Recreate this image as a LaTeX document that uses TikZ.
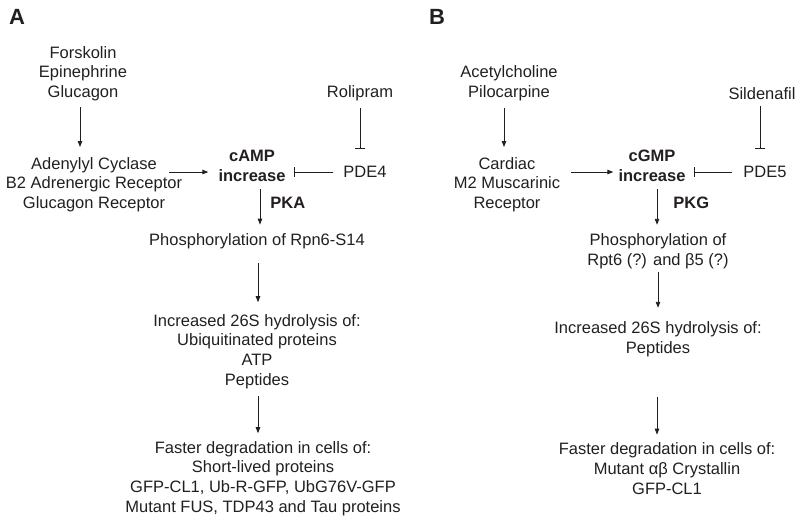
\documentclass[tikz,border=0pt]{standalone}
\usepackage{fontspec}
\setmainfont{Liberation Sans}
\usetikzlibrary{arrows.meta,positioning}
\definecolor{ink}{RGB}{35,31,32}
\tikzset{
  lbl/.style={align=center,inner sep=0pt,text=ink,font=\fontsize{16.5}{19.6}\selectfont},
  hub/.style={lbl,font=\fontsize{16.5}{19.6}\selectfont\bfseries},
  panel/.style={inner sep=0pt,text=ink,font=\fontsize{22}{26}\selectfont\bfseries},
  act/.style={draw=ink,line width=0.9pt,-{Triangle[length=6pt,width=4.5pt]}},
  inh/.style={draw=ink,line width=0.9pt,-{Bar[width=10pt,line width=0.9pt]}}
}

\begin{document}
\begin{tikzpicture}[x=1pt,y=-1pt]
\useasboundingbox (0,0) rectangle (800,523);

\node[panel] (pA) at (17,17) {A};
\node[panel] (pB) at (437,17) {B};

% panel A
\node[lbl] (forsk) at (83,73.5) {Forskolin\\Epinephrine\\Glucagon};
\node[lbl] (adcy) at (94,184.5) {Adenylyl Cyclase\\B2 Adrenergic Receptor\\Glucagon Receptor};
\node[hub] (camp) at (252,166) {cAMP\\increase};
\node[lbl] (roli) at (360,93.5) {Rolipram};
\node[lbl] (pdefour) at (365,172) {PDE4};
\node[lbl] (phosA) at (257,241.5) {Phosphorylation of Rpn6-S14};
\node[lbl] (hydroA) at (257,351.5) {Increased 26S hydrolysis of:\\Ubiquitinated proteins\\ATP\\Peptides};
\node[lbl] (fastA) at (263,478.5) {Faster degradation in cells of:\\Short-lived proteins\\GFP-CL1, Ub-R-GFP, UbG76V-GFP\\Mutant FUS, TDP43 and Tau proteins};

\draw[act,shorten <=6.5pt,shorten >=10pt] ([xshift=-3pt]forsk.south) -- ([xshift=-14pt]adcy.north);
\draw[act,shorten >=10pt] ([xshift=-13pt]adcy.east |- pdefour) -- (camp.west |- pdefour);
\draw[inh,shorten <=10pt,shorten >=8pt] (pdefour.west) -- (camp.east |- pdefour);
\draw[inh,shorten <=6.5pt,shorten >=17pt] (roli.south) -- (roli.south |- pdefour.north);
\draw[act,shorten <=7pt,shorten >=9pt] ([xshift=8pt]camp.south) -- node[hub,anchor=west,xshift=10pt,pos=0.4] (pka) {PKA} ([xshift=3pt]phosA.north);
\draw[act,shorten <=13.5pt,shorten >=12pt] ([xshift=1pt]phosA.south) -- ([xshift=1pt]hydroA.north);
\draw[act,shorten <=7.5pt,shorten >=8pt] ([xshift=1pt]hydroA.south) -- ([xshift=-5pt]fastA.north);

% panel B
\node[lbl] (acet) at (509,83.5) {Acetylcholine\\Pilocarpine};
\node[lbl] (card) at (507,184.5) {Cardiac\\M2 Muscarinic\\Receptor};
\node[hub] (cgmp) at (652,166) {cGMP\\increase};
\node[lbl] (silde) at (762,93.5) {Sildenafil};
\node[lbl] (pdefive) at (765,172) {PDE5};
\node[lbl] (phosB) at (658,251.5) {Phosphorylation of\\Rpt6 (?) and β5 (?)};
\node[lbl] (hydroB) at (658,339.5) {Increased 26S hydrolysis of:\\Peptides};
\node[lbl] (fastB) at (667,468.5) {Faster degradation in cells of:\\Mutant αβ Crystallin\\GFP-CL1};

\draw[act,shorten <=6.5pt,shorten >=10pt] ([xshift=-5pt]acet.south) -- ([xshift=-3pt]card.north);
\draw[act,shorten >=5pt] ([xshift=11pt]card.east |- pdefive) -- (cgmp.west |- pdefive);
\draw[inh,shorten <=11pt,shorten >=8pt] (pdefive.west) -- (cgmp.east |- pdefive);
\draw[inh,shorten <=6.5pt,shorten >=17pt] ([xshift=-2pt]silde.south) -- ([xshift=-2pt]silde.south |- pdefive.north);
\draw[act,shorten <=7pt,shorten >=9pt] ([xshift=5pt]cgmp.south) -- node[hub,anchor=west,xshift=16pt,pos=0.4] (pkg) {PKG} ([xshift=-1pt]phosB.north);
\draw[act,shorten <=2.5pt,shorten >=14pt] (phosB.south) -- (hydroB.north);
\draw[act,shorten <=39.5pt,shorten >=8pt] ([xshift=-1pt]hydroB.south) -- ([xshift=-10pt]fastB.north);

\end{tikzpicture}
\end{document}
